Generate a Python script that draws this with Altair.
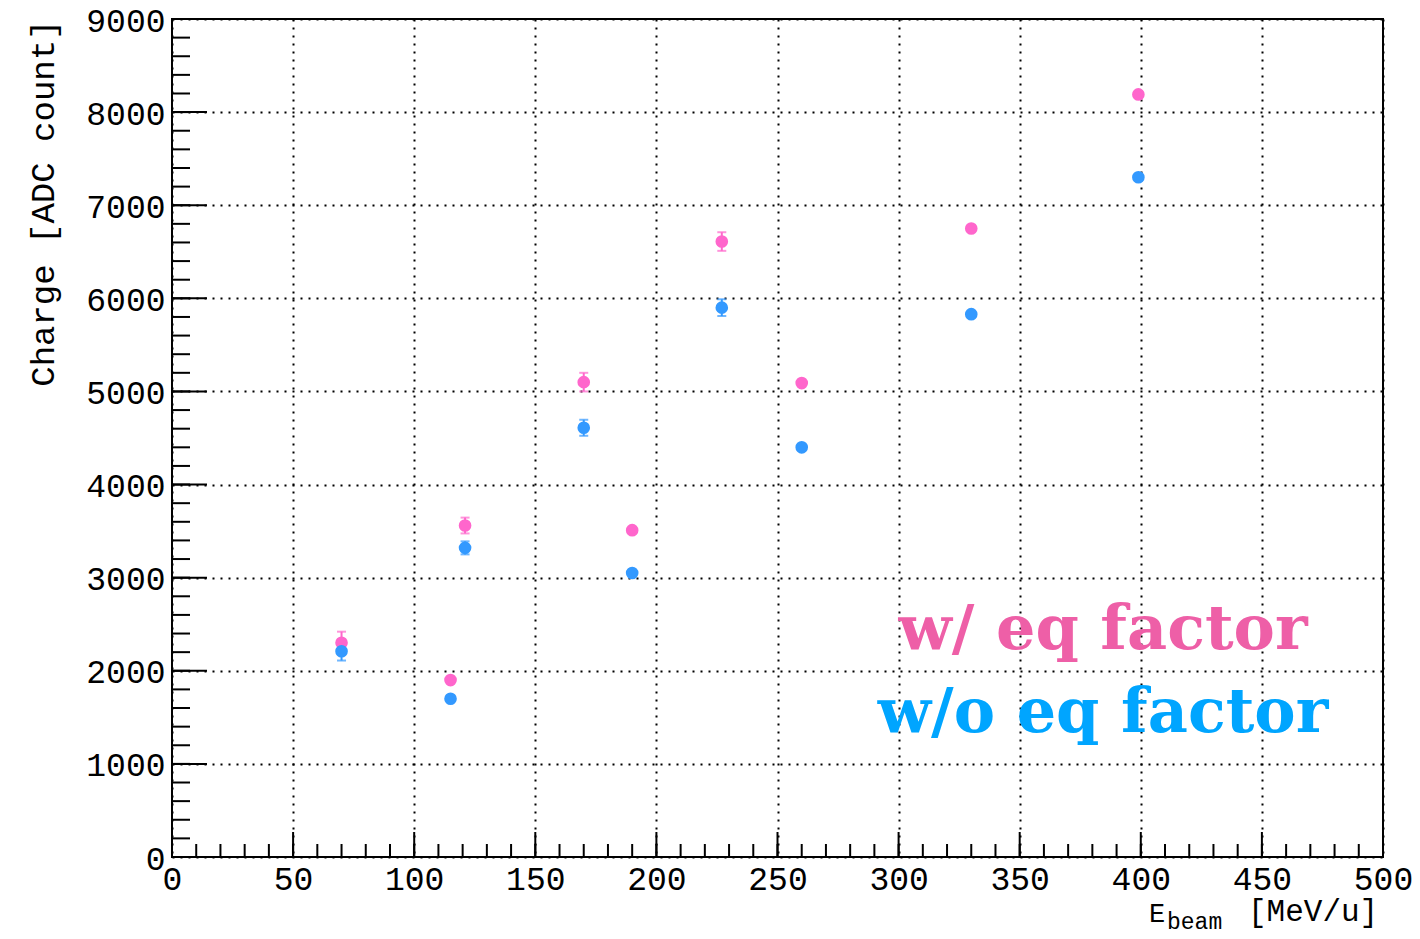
import altair as alt
import pandas as pd

# ---- data ----
energy = [70, 115, 121, 170, 190, 227, 260, 330, 399]
charge_with_eq = [2300, 1900, 3560, 5100, 3510, 6610, 5090, 6750, 8190]
err_with_eq = [120, 0, 85, 100, 0, 100, 0, 0, 0]
charge_without_eq = [2210, 1700, 3320, 4610, 3050, 5900, 4400, 5830, 7300]
err_without_eq = [100, 0, 70, 86, 0, 90, 0, 0, 0]

series_names = ["w/ eq factor", "w/o eq factor"]
marker_colors = ["#FF66CC", "#3399FF"]
text_colors = ["#EE5FA7", "#00A5FF"]

x_major = list(range(0, 501, 50))
x_minor = list(range(0, 501, 10))
y_major = list(range(0, 9001, 1000))
y_minor = list(range(0, 9001, 200))

FONT = "Liberation Mono"
W, H = 1211, 838

rows = []
for e, c, d in zip(energy, charge_with_eq, err_with_eq):
    rows.append({"E": e, "Q": c, "lo": c - d, "hi": c + d, "s": series_names[0]})
for e, c, d in zip(energy, charge_without_eq, err_without_eq):
    rows.append({"E": e, "Q": c, "lo": c - d, "hi": c + d, "s": series_names[1]})
df = pd.DataFrame(rows)

xs = alt.Scale(domain=[0, 500], nice=False, zero=False)
ys = alt.Scale(domain=[0, 9000], nice=False, zero=False)
col = alt.Scale(domain=series_names, range=marker_colors)

x_axis = alt.Axis(values=x_major, format="d", grid=True, gridColor="black",
                  gridDash=[2, 6], gridWidth=2, gridOpacity=1, ticks=False,
                  domain=False, labelFont=FONT, labelFontSize=33,
                  labelColor="black", labelPadding=6, title=None,
                  labelFlush=False, labelOverlap=False)
y_axis = alt.Axis(values=y_major, format="d", grid=True, gridColor="black",
                  gridDash=[2, 6], gridWidth=2, gridOpacity=1, ticks=False,
                  domain=False, labelFont=FONT, labelFontSize=33,
                  labelColor="black", labelPadding=7, labelOffset=2,
                  labelFlush=False, labelOverlap=False,
                  title="Charge [ADC count]", titleFont=FONT, titleFontSize=34,
                  titleFontWeight="normal", titleColor="black", titleAngle=-90,
                  titleAnchor="end", titleAlign="right", titleBaseline="middle",
                  titleX=-129, titleY=0)

base = alt.Chart(df)

grid_layer = base.mark_point(opacity=0).encode(
    x=alt.X("E:Q", scale=xs, axis=x_axis),
    y=alt.Y("Q:Q", scale=ys, axis=y_axis),
)

err_rules = base.mark_rule(strokeWidth=2).encode(
    x=alt.X("E:Q", scale=xs), y=alt.Y("lo:Q", scale=ys), y2="hi:Q",
    color=alt.Color("s:N", scale=col, legend=None),
)
caps_lo = base.mark_tick(orient="horizontal", size=9, thickness=2).encode(
    x=alt.X("E:Q", scale=xs), y=alt.Y("lo:Q", scale=ys),
    color=alt.Color("s:N", scale=col, legend=None),
)
caps_hi = base.mark_tick(orient="horizontal", size=9, thickness=2).encode(
    x=alt.X("E:Q", scale=xs), y=alt.Y("hi:Q", scale=ys),
    color=alt.Color("s:N", scale=col, legend=None),
)
points = base.mark_circle(size=160, opacity=1).encode(
    x=alt.X("E:Q", scale=xs), y=alt.Y("Q:Q", scale=ys),
    color=alt.Color("s:N", scale=col, legend=None),
)

# axis ticks drawn inside the frame (ROOT style)
xminor_df = pd.DataFrame({"t": x_minor})
xmajor_df = pd.DataFrame({"t": x_major})
yminor_df = pd.DataFrame({"t": y_minor})
ymajor_df = pd.DataFrame({"t": y_major})

xt_minor = alt.Chart(xminor_df).mark_rule(color="black", strokeWidth=2).encode(
    x=alt.X("t:Q", scale=xs), y=alt.value(H), y2=alt.value(H - 13))
xt_major = alt.Chart(xmajor_df).mark_rule(color="black", strokeWidth=2).encode(
    x=alt.X("t:Q", scale=xs), y=alt.value(H), y2=alt.value(H - 25))
yt_minor = alt.Chart(yminor_df).mark_rule(color="black", strokeWidth=2).encode(
    y=alt.Y("t:Q", scale=ys), x=alt.value(0), x2=alt.value(18))
yt_major = alt.Chart(ymajor_df).mark_rule(color="black", strokeWidth=2).encode(
    y=alt.Y("t:Q", scale=ys), x=alt.value(0), x2=alt.value(35))

# x-axis title with subscript
one = pd.DataFrame({"k": [0]})
xt_E = alt.Chart(one).mark_text(font=FONT, fontSize=27, align="left",
                                baseline="alphabetic", color="black").encode(
    x=alt.value(977), y=alt.value(903), text=alt.value("E"))
xt_sub = alt.Chart(one).mark_text(font=FONT, fontSize=23, align="left",
                                  baseline="alphabetic", color="black").encode(
    x=alt.value(995), y=alt.value(910), text=alt.value("beam"))
xt_unit = alt.Chart(one).mark_text(font=FONT, fontSize=31, align="left",
                                   baseline="alphabetic", color="black").encode(
    x=alt.value(1076), y=alt.value(902), text=alt.value("[MeV/u]"))

# in-plot labels
LFONT = "DejaVu Serif"
lab1 = alt.Chart(one).mark_text(font=LFONT, fontSize=62, fontWeight="bold",
                                align="center", baseline="alphabetic",
                                color=text_colors[0]).encode(
    x=alt.value(931), y=alt.value(630), text=alt.value(series_names[0]))
lab2 = alt.Chart(one).mark_text(font=LFONT, fontSize=62, fontWeight="bold",
                                align="center", baseline="alphabetic",
                                color=text_colors[1]).encode(
    x=alt.value(931), y=alt.value(713), text=alt.value(series_names[1]))

chart = alt.layer(
    grid_layer, xt_minor, xt_major, yt_minor, yt_major,
    err_rules, caps_lo, caps_hi, points, lab1, lab2, xt_E, xt_sub, xt_unit,
).properties(
    width=W, height=H,
    autosize=alt.AutoSizeParams(type="none"),
    padding={"left": 172, "top": 19, "right": 37, "bottom": 82},
    background="white",
).configure_view(stroke="black", strokeWidth=2)

chart.save("out.html", embed_options={"renderer": "svg", "actions": False})
